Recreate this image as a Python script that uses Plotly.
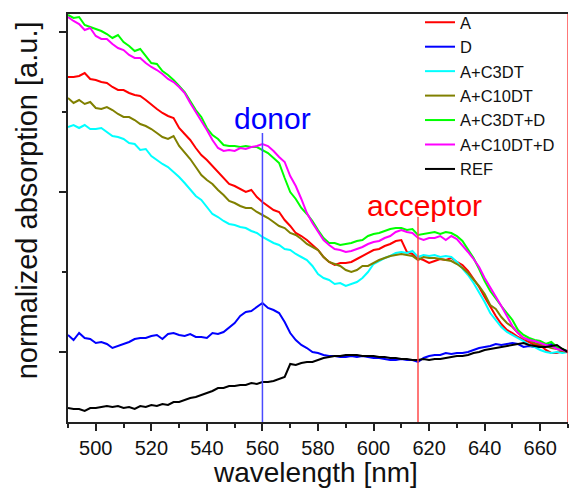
import numpy as np
import plotly.graph_objects as go

# wavelength grid [nm]
wavelength = list(range(490, 672, 2))

# normalized absorption, arbitrary units
A = [275, 275, 276, 279, 273, 272, 270, 269, 265, 262,
     262, 259, 257, 256, 252, 247, 243, 239, 236, 234,
     224, 218, 212, 204, 197, 192, 186, 180, 174, 168,
     166, 163, 160, 162, 155, 150, 146, 142, 140, 132,
     126, 119, 116, 112, 107, 102, 95, 90, 87, 89,
     89, 90, 93, 96, 99, 102, 103, 106, 108, 111,
     112, 100, 98, 94, 92, 89, 91, 93, 92, 94,
     90, 87, 81, 73, 65, 55, 45, 36, 28, 22,
     19, 15, 12, 10, 7, 7, 2, -1, -1, 1,
     0]

D = [17, 12, 19, 14, 13, 9, 10, 8, 4, 6,
     8, 10, 13, 14, 14, 16, 17, 13, 18, 19,
     17, 16, 18, 15, 15, 14, 19, 18, 20, 25,
     29, 36, 40, 41, 45, 49, 44, 42, 39, 30,
     19, 12, 7, 4, 0, -1, -3, -4, -4, -5,
     -5, -4, -5, -4, -5, -6, -6, -7, -8, -8,
     -7, -8, -8, -10, -6, -4, -3, -3, -1, -2,
     -1, -1, 0, 2, 4, 5, 6, 8, 7, 8,
     9, 8, 5, 6, 5, 5, 6, 8, 4, 2,
     1]

A_C3DT = [225, 227, 224, 227, 223, 223, 224, 220, 216, 215,
          213, 209, 208, 202, 203, 196, 192, 188, 185, 180,
          175, 169, 163, 156, 152, 145, 138, 135, 131, 128,
          127, 125, 124, 121, 119, 115, 112, 109, 107, 103,
          102, 98, 95, 92, 86, 78, 74, 72, 68, 69,
          66, 68, 70, 74, 80, 88, 91, 94, 96, 99,
          100, 99, 101, 95, 97, 96, 97, 95, 96, 95,
          90, 84, 77, 69, 60, 50, 39, 32, 25, 20,
          17, 14, 11, 7, 5, 2, 0, -1, 0, -1,
          0]

A_C10DT = [254, 249, 252, 248, 250, 244, 243, 245, 242, 238,
           235, 235, 232, 228, 226, 223, 219, 215, 213, 216,
           206, 200, 193, 185, 177, 172, 168, 162, 157, 151,
           149, 146, 144, 144, 140, 137, 134, 130, 126, 124,
           119, 117, 113, 108, 105, 102, 95, 90, 88, 86,
           82, 80, 82, 86, 86, 89, 92, 94, 96, 97,
           98, 97, 96, 92, 95, 94, 94, 93, 92, 91,
           88, 84, 79, 73, 66, 58, 47, 43, 35, 29,
           25, 19, 14, 12, 9, 8, 6, 4, 3, 1,
           0]

A_C3DT_D = [337, 334, 335, 327, 325, 323, 321, 318, 314, 317,
            310, 306, 301, 303, 296, 289, 288, 281, 277, 272,
            266, 260, 251, 242, 235, 224, 217, 213, 207, 206,
            206, 205, 206, 205, 205, 202, 199, 194, 189, 174,
            160, 153, 144, 138, 131, 122, 114, 109, 109, 107,
            108, 109, 111, 112, 116, 118, 119, 121, 123, 124,
            124, 122, 123, 117, 118, 119, 120, 118, 120, 119,
            116, 111, 103, 94, 83, 71, 61, 53, 46, 39,
            32, 22, 17, 14, 12, 11, 8, 10, 5, 3,
            0]

A_C10DT_D = [335, 331, 328, 322, 324, 316, 313, 313, 308, 304,
             302, 297, 294, 294, 289, 285, 282, 278, 273, 270,
             265, 259, 249, 240, 232, 222, 212, 204, 201, 202,
             201, 204, 203, 205, 206, 208, 206, 201, 195, 190,
             176, 166, 153, 139, 129, 121, 112, 107, 103, 102,
             100, 101, 103, 105, 108, 110, 111, 114, 116, 120,
             122, 120, 119, 114, 112, 114, 114, 116, 112, 116,
             113, 107, 100, 93, 85, 74, 65, 55, 46, 36,
             26, 19, 14, 12, 11, 9, 7, 6, 3, 2,
             0]

REF = [-56, -57, -57, -59, -56, -56, -55, -54, -55, -54,
       -56, -55, -57, -54, -55, -53, -54, -52, -53, -50,
       -50, -48, -46, -45, -43, -41, -39, -36, -36, -34,
       -34, -33, -33, -31, -32, -30, -30, -29, -27, -25,
       -12, -13, -11, -10, -10, -8, -6, -5, -4, -4,
       -3, -3, -3, -4, -4, -4, -5, -5, -6, -6,
       -7, -7, -8, -8, -7, -8, -7, -7, -6, -5,
       -4, -4, -3, -1, 0, 2, 3, 4, 5, 6,
       7, 8, 9, 7, 6, 5, 5, 6, 7, 3,
       0]

series = [
    ("A", A, "#ff0000"),
    ("D", D, "#0000ff"),
    ("A+C3DT", A_C3DT, "#00ffff"),
    ("A+C10DT", A_C10DT, "#808000"),
    ("A+C3DT+D", A_C3DT_D, "#00ff00"),
    ("A+C10DT+D", A_C10DT_D, "#ff00ff"),
    ("REF", REF, "#000000"),
]

x_ticks = [500, 520, 540, 560, 580, 600, 620, 640, 660]
donor_nm, acceptor_nm = 560, 616

FONT = "Arial, 'Liberation Sans', sans-serif"

fig = go.Figure()
for name, vals, col in series:
    fig.add_trace(go.Scatter(x=wavelength, y=vals, mode="lines", name=name,
                             line=dict(color=col, width=2)))

fig.update_layout(
    width=569, height=488,
    margin=dict(l=68, r=1, t=14, b=66, autoexpand=False),
    paper_bgcolor="white", plot_bgcolor="white",
    font=dict(family=FONT, color="#111"),
    showlegend=True,
    legend=dict(x=0.704, y=1.022, xanchor="left", yanchor="top",
                font=dict(size=16.5, family=FONT, color="#111"),
                bgcolor="rgba(0,0,0,0)", tracegroupgap=0,
                borderwidth=0, itemwidth=30),
    xaxis=dict(range=[490, 670], tickmode="array", tickvals=x_ticks,
               ticks="outside", ticklen=7, tickwidth=1.5, tickcolor="#222",
               minor=dict(dtick=10, tick0=490, ticks="outside", ticklen=4,
                          tickwidth=1.5, tickcolor="#222"),
               showline=True, linewidth=2, linecolor="#222", mirror=True,
               showgrid=False, zeroline=False,
               tickfont=dict(size=20, family=FONT, color="#111")),
    yaxis=dict(range=[-70, 338], tickmode="array", tickvals=[0, 160, 320],
               showticklabels=False,
               ticks="outside", ticklen=7, tickwidth=1.5, tickcolor="#222",
               minor=dict(tickmode="array", tickvals=[80, 240], ticks="outside",
                          ticklen=4, tickwidth=1.5, tickcolor="#222"),
               showline=True, linewidth=2, linecolor="#222",
               showgrid=False, zeroline=False),
)

# marker lines
fig.add_shape(type="line", x0=donor_nm, x1=donor_nm, y0=-70, y1=219,
              xref="x", yref="y", line=dict(color="#4a4aff", width=1.5))
fig.add_shape(type="line", x0=acceptor_nm, x1=acceptor_nm, y0=-70, y1=135,
              xref="x", yref="y", line=dict(color="#ff4a4a", width=1.5))
fig.add_shape(type="line", x0=670, x1=670, y0=-70, y1=338,
              xref="x", yref="y", line=dict(color="#ff4a4a", width=1.5))

fig.add_annotation(x=donor_nm, y=219, xref="x", yref="y", text="donor",
                   showarrow=False, xanchor="center", yanchor="bottom",
                   xshift=10, yshift=-4,
                   font=dict(size=30, color="#0000ff", family=FONT))
fig.add_annotation(x=acceptor_nm, y=135, xref="x", yref="y", text="acceptor",
                   showarrow=False, xanchor="center", yanchor="bottom",
                   xshift=6, yshift=-7,
                   font=dict(size=30, color="#ff0000", family=FONT))

# axis titles
fig.add_annotation(x=0.494, y=-0.124, xref="paper", yref="paper",
                   text="wavelength [nm]", showarrow=False,
                   xanchor="center", yanchor="middle",
                   font=dict(size=28, color="#111", family=FONT))
fig.add_annotation(x=-0.083, y=0.542, xref="paper", yref="paper",
                   text="normalized absorption [a.u.]", showarrow=False,
                   textangle=-90, xanchor="center", yanchor="middle",
                   font=dict(size=29, color="#111", family=FONT))

fig.write_html("out.html")
